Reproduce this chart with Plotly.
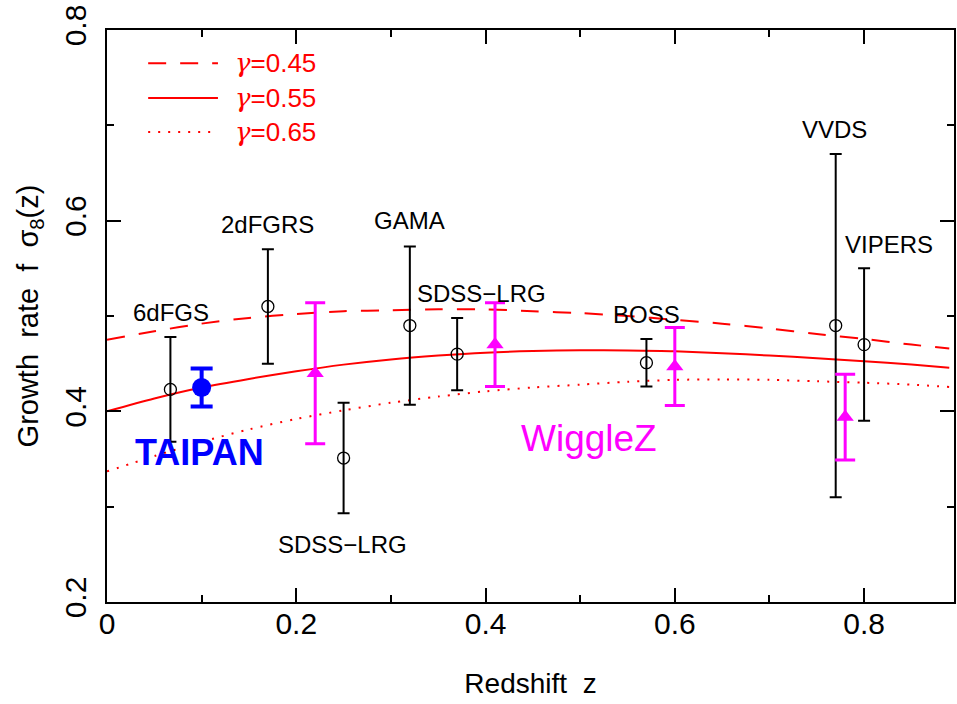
import plotly.graph_objects as go

# ---------------- data ----------------
# theory curves f*sigma8(z) for three growth indices
z_model = [0.0, 0.05, 0.10, 0.15, 0.20, 0.25, 0.30, 0.35, 0.40, 0.45, 0.50,
           0.55, 0.60, 0.65, 0.70, 0.75, 0.80, 0.85, 0.89]
fs8_g045 = [0.475, 0.484, 0.492, 0.498, 0.502, 0.505, 0.506, 0.507, 0.507, 0.505, 0.503,
            0.500, 0.496, 0.492, 0.487, 0.481, 0.476, 0.470, 0.466]
fs8_g055 = [0.400, 0.4135, 0.425, 0.434, 0.442, 0.449, 0.4545, 0.4585, 0.4615, 0.4632, 0.464,
            0.4638, 0.463, 0.461, 0.4585, 0.4557, 0.4525, 0.449, 0.4458]
fs8_g065 = [0.337, 0.353, 0.368, 0.381, 0.392, 0.401, 0.409, 0.4155, 0.421, 0.425, 0.428,
            0.431, 0.433, 0.4335, 0.433, 0.4315, 0.430, 0.428, 0.4255]
gamma_values = ["0.45", "0.55", "0.65"]

# literature measurements (black open circles)
lit_z = [0.067, 0.17, 0.25, 0.32, 0.37, 0.57, 0.77, 0.80]
lit_fs8 = [0.423, 0.51, 0.351, 0.49, 0.460, 0.451, 0.49, 0.47]
lit_err = [0.055, 0.06, 0.058, 0.083, 0.038, 0.025, 0.18, 0.08]

# WiggleZ (magenta triangles)
wz_z = [0.22, 0.41, 0.60, 0.78]
wz_fs8 = [0.44, 0.47, 0.447, 0.394]
wz_err = [0.074, 0.044, 0.041, 0.045]

# TAIPAN forecast (blue)
tp_z = [0.10]
tp_fs8 = [0.425]
tp_err = [0.02]

# survey labels: text, z, y
label_text = ["6dFGS", "2dFGRS", "SDSS\u2212LRG", "GAMA", "SDSS\u2212LRG", "BOSS", "VVDS", "VIPERS"]
label_z = [0.068, 0.17, 0.249, 0.320, 0.396, 0.570, 0.769, 0.826]
label_y = [0.504, 0.5955, 0.260, 0.600, 0.524, 0.502, 0.696, 0.5755]

# ---------------- figure ----------------
RED = "#ff0000"
MAG = "#ff00ff"
BLUE = "#0000ff"
FONT = "Liberation Sans, Arial, sans-serif"

fig = go.Figure()

dashes = ["18px,14px", "solid", "2px,8px"]
curves = [fs8_g045, fs8_g055, fs8_g065]
for ys, d, gv in zip(curves, dashes, gamma_values):
    fig.add_trace(go.Scatter(x=z_model, y=ys, mode="lines", name="gamma=" + gv,
                             line=dict(color=RED, width=2, dash=d, shape="spline", smoothing=0.8),
                             showlegend=False, hoverinfo="skip"))

fig.add_trace(go.Scatter(
    x=lit_z, y=lit_fs8, mode="markers", showlegend=False,
    marker=dict(symbol="circle-open", size=12, color="black", line=dict(width=1.3, color="black")),
    error_y=dict(type="data", array=lit_err, visible=True, color="black", thickness=2, width=6)))

fig.add_trace(go.Scatter(
    x=wz_z, y=wz_fs8, mode="markers", showlegend=False,
    marker=dict(symbol="triangle-up", size=15, color=MAG),
    error_y=dict(type="data", array=wz_err, visible=True, color=MAG, thickness=3, width=10)))

fig.add_trace(go.Scatter(
    x=tp_z, y=tp_fs8, mode="markers", showlegend=False,
    marker=dict(symbol="circle", size=19, color=BLUE),
    error_y=dict(type="data", array=tp_err, visible=True, color=BLUE, thickness=4, width=11)))

# survey labels
for t, zx, yy in zip(label_text, label_z, label_y):
    fig.add_annotation(x=zx, y=yy, text=t, showarrow=False,
                       font=dict(family=FONT, size=24, color="black"),
                       xanchor="center", yanchor="middle")

fig.add_annotation(x=0.098, y=0.357, text="<b>TAIPAN</b>", showarrow=False,
                   font=dict(family=FONT, size=36, color=BLUE),
                   xanchor="center", yanchor="middle")
fig.add_annotation(x=0.509, y=0.372, text="WiggleZ", showarrow=False,
                   font=dict(family=FONT, size=37, color=MAG),
                   xanchor="center", yanchor="middle")

# custom legend (top-left)
leg_y = [0.942, 0.881, 0.8216]
for yy, d, gv in zip(leg_y, dashes, gamma_values):
    fig.add_shape(type="line", xref="paper", yref="paper", x0=0.0486, x1=0.131, y0=yy, y1=yy,
                  line=dict(color=RED, width=2, dash=d))
    fig.add_annotation(xref="paper", yref="paper", x=0.149, y=yy,
                       text="<span style='font-family:DejaVu Serif'><i>\u03b3</i></span>=" + gv,
                       showarrow=False, xanchor="left", yanchor="middle",
                       font=dict(family=FONT, size=26, color=RED))

axis_common = dict(showline=True, linecolor="black", linewidth=2, mirror="ticks",
                   ticks="inside", tickcolor="black", tickwidth=2, ticklen=14,
                   showgrid=False, zeroline=False,
                   tickfont=dict(family=FONT, size=30, color="black"))

fig.update_xaxes(range=[0, 0.895], tickvals=[0, 0.2, 0.4, 0.6, 0.8],
                 ticktext=["0", "0.2", "0.4", "0.6", "0.8"],
                 minor=dict(dtick=0.1, tick0=0, ticks="inside", ticklen=7, tickwidth=2, tickcolor="black"),
                 title=dict(text="Redshift\u00a0\u00a0z", font=dict(family=FONT, size=28, color="black"),
                            standoff=34),
                 ticklabelstandoff=-6,
                 **axis_common)
fig.update_yaxes(range=[0.2, 0.8], tickvals=[0.2, 0.4, 0.6, 0.8],
                 ticktext=["0.2", "0.4", "0.6", "0.8"], tickangle=-90,
                 minor=dict(dtick=0.1, tick0=0.2, ticks="inside", ticklen=7, tickwidth=2, tickcolor="black"),
                 title=dict(text="Growth\u00a0\u00a0rate\u00a0\u00a0f\u00a0\u00a0\u03c3<sub>8</sub>(z)",
                            font=dict(family=FONT, size=29, color="black"), standoff=12),
                 ticklabelstandoff=7,
                 **axis_common)

fig.update_layout(width=957, height=704,
                  margin=dict(l=107, r=1, t=30, b=102, pad=0),
                  plot_bgcolor="white", paper_bgcolor="white",
                  showlegend=False)

fig.write_html("out.html")
